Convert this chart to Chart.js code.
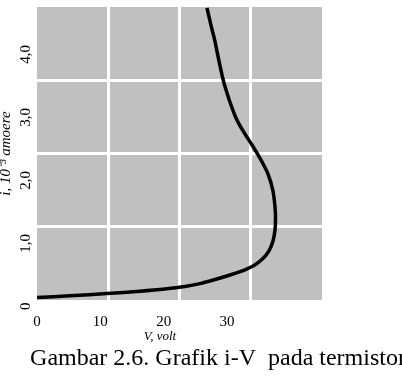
<!DOCTYPE html>
<html>
<head>
<meta charset="utf-8">
<script src="https://cdn.jsdelivr.net/npm/chart.js@4.4.0/dist/chart.umd.min.js"></script>
<style>
  html, body { margin: 0; padding: 0; overflow: hidden; background: #fff; }
  canvas { display: block; }
</style>
</head>
<body>
<canvas id="ivChart" height="380"></canvas>
<script>
// thermistor i-V curve
const voltage = [0, 5.2, 11.05, 16.26, 20.21, 23.37, 25.74, 28.11, 30.47, 32.53, 34.26, 35.68, 36.63, 37.26, 37.58, 37.66, 37.58, 37.26, 36.47, 35.37, 33.95, 32.53, 31.42, 30.63, 29.95, 29.38, 28.7, 28.05, 27.42, 26.84];
const current = [0.14, 0.167, 0.203, 0.24, 0.275, 0.314, 0.36, 0.425, 0.497, 0.568, 0.648, 0.759, 0.878, 1.037, 1.211, 1.402, 1.576, 1.83, 2.1, 2.322, 2.56, 2.783, 2.989, 3.195, 3.402, 3.6, 3.91, 4.227, 4.481, 4.735];
const xTicks = [0, 10, 20, 30];
const yTicks = [0, 1, 2, 3, 4];
const xTitle = 'V, volt';
const yTitle = 'i, 10⁻³ amoere';
const caption = 'Gambar 2.6. Grafik i-V  pada termistor';

const serif = '"Liberation Serif", "Times New Roman", serif';

// caption starts at x=30 and runs off the right edge, so size the canvas round it
const canvas = document.getElementById('ivChart');
const m = document.createElement('canvas').getContext('2d');
m.font = '24px ' + serif;
const capW = m.measureText(caption).width;
canvas.width = Math.round(60 + capW);
const rightGap = canvas.width - 322;

const plotBg = {
  id: 'plotBg',
  beforeDraw(chart) {
    const {ctx, chartArea: a} = chart;
    ctx.save();
    ctx.fillStyle = '#c0c0c0';
    ctx.fillRect(a.left, a.top, a.right - a.left, a.bottom - a.top);
    ctx.restore();
  }
};

const innerWhite = (ctx) => (ctx.tick.value === 0 || ctx.tick.value === 4) ? 'rgba(0,0,0,0)' : '#ffffff';

const config = {
  type: 'scatter',
  data: {
    datasets: [{
      data: voltage.map((v, i) => ({x: v, y: current[i]})),
      showLine: true,
      borderColor: '#000',
      borderWidth: 3.5,
      pointRadius: 0,
      tension: 0.25,
      xAxisID: 'x',
      yAxisID: 'y'
    }]
  },
  options: {
    responsive: false,
    animation: false,
    layout: { padding: { top: 7, left: 0, right: 0, bottom: 0 } },
    scales: {
      x: {
        type: 'linear',
        position: 'bottom',
        min: 0,
        max: 45,
        afterBuildTicks: s => { s.ticks = xTicks.map(v => ({value: v})); },
        afterFit: s => { s.height = 44.6; },
        grid: { display: false, drawTicks: false },
        border: { display: false },
        ticks: { padding: 13, color: '#000', autoSkip: false, maxRotation: 0, font: { family: serif, size: 15 } },
        title: {
          display: true,
          text: xTitle + '\u2003\u2003\u2003',
          color: '#000',
          padding: { top: 0, bottom: 0 },
          font: { family: serif, size: 13, style: 'italic' }
        }
      },
      xg: {
        type: 'linear',
        position: 'top',
        min: 0,
        max: 4,
        ticks: { display: false, stepSize: 1 },
        grid: { color: innerWhite, lineWidth: 3, drawTicks: false },
        border: { display: false }
      },
      y: {
        type: 'linear',
        position: 'left',
        min: 0.1,
        max: 4.75,
        afterBuildTicks: s => { s.ticks = yTicks.map(v => ({value: v})); },
        afterFit: s => { s.width = 37; s.paddingTop = 0; s.paddingBottom = 0; },
        grid: { display: false, drawTicks: false },
        border: { display: false },
        ticks: {
          minRotation: 90,
          maxRotation: 90,
          crossAlign: 'center',
          padding: 2,
          autoSkip: false,
          color: '#000',
          font: { family: serif, size: 15 },
          callback: v => v === 0 ? '0' : v.toFixed(1).replace('.', ',')
        },
        title: {
          display: true,
          text: yTitle,
          color: '#000',
          padding: { top: 0, bottom: 0 },
          font: { family: serif, size: 15, style: 'italic', lineHeight: 0.8 }
        }
      },
      yg: {
        type: 'linear',
        position: 'right',
        min: 0,
        max: 4,
        afterFit: s => { s.width = rightGap; s.paddingTop = 0; s.paddingBottom = 0; },
        ticks: { display: false, stepSize: 1 },
        grid: { color: innerWhite, lineWidth: 3, drawTicks: false },
        border: { display: false }
      }
    },
    plugins: {
      legend: { display: false },
      tooltip: { enabled: false },
      title: {
        display: true,
        position: 'bottom',
        text: caption,
        color: '#000',
        padding: { top: 0, bottom: 6.6 },
        font: { family: serif, size: 24, weight: 'normal' }
      }
    }
  },
  plugins: [plotBg]
};

const ivChart = new Chart(canvas.getContext('2d'), config);
</script>
</body>
</html>
